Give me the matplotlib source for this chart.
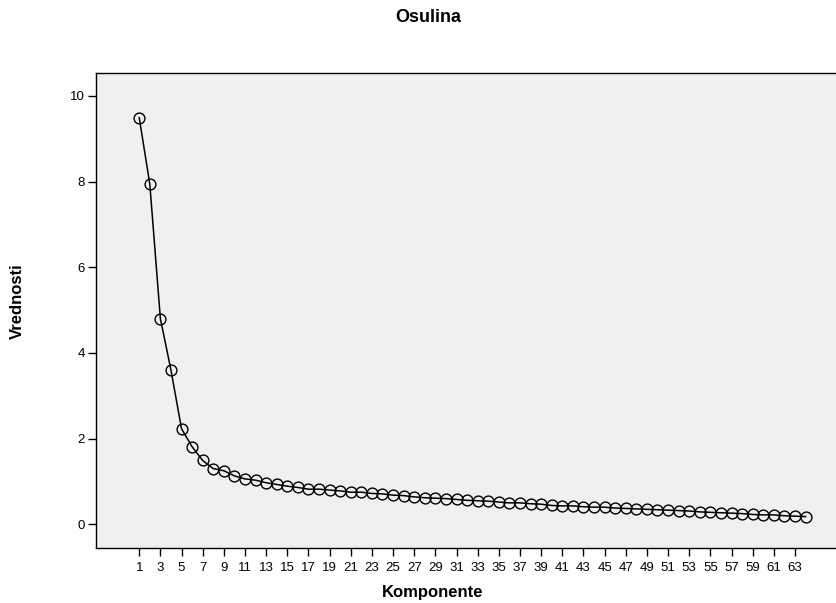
import numpy as np
import matplotlib.pyplot as plt

plt.rcParams['font.family'] = ['Liberation Sans', 'DejaVu Sans']

# Scree plot - lastne vrednosti po komponentah
komponente = np.arange(1, 65)
vrednosti = [9.49, 7.94, 4.80, 3.60, 2.23, 1.81, 1.49, 1.30, 1.25, 1.13,
             1.06, 1.03, 0.97, 0.93, 0.89, 0.86, 0.82, 0.82, 0.80, 0.78,
             0.75, 0.75, 0.72, 0.71, 0.68, 0.67, 0.64, 0.62, 0.61, 0.60,
             0.58, 0.56, 0.55, 0.54, 0.52, 0.50, 0.50, 0.48, 0.47, 0.44,
             0.43, 0.43, 0.41, 0.40, 0.40, 0.38, 0.37, 0.36, 0.35, 0.34,
             0.33, 0.32, 0.31, 0.29, 0.28, 0.27, 0.26, 0.25, 0.23, 0.22,
             0.22, 0.20, 0.19, 0.18]
xticks = np.arange(1, 64, 2)
yticks = [0, 2, 4, 6, 8, 10]

fig = plt.figure(figsize=(8.36, 6.03), dpi=100)
ax = fig.add_axes([0.1148, 0.0907, 0.8852, 0.7887])
ax.set_facecolor('#f0f0f0')

ax.plot(komponente, vrednosti, color='black', lw=1.1, marker='o',
        ms=7.8, mfc='none', mec='black', mew=1.0)

ax.set_xlim(-3.09, 66.88)
ax.set_ylim(-0.56, 10.54)
ax.set_xticks(xticks)
ax.set_yticks(yticks)
ax.tick_params(direction='out', length=5.8, width=1, labelsize=9.5)
ax.tick_params(axis='x', pad=4)
ax.tick_params(axis='y', pad=2)

ax.spines['right'].set_visible(False)
for s in ['left', 'bottom', 'top']:
    ax.spines[s].set_linewidth(1.0)

fig.text(0.512, 0.971, 'Osulina', ha='center', va='center',
         fontsize=13, fontweight='bold')
fig.text(0.518, 0.017, 'Komponente', ha='center', va='center',
         fontsize=12, fontweight='bold')
fig.text(0.021, 0.5, 'Vrednosti', ha='center', va='center', rotation=90,
         fontsize=12, fontweight='bold')

fig.savefig('out.png', dpi=100)
